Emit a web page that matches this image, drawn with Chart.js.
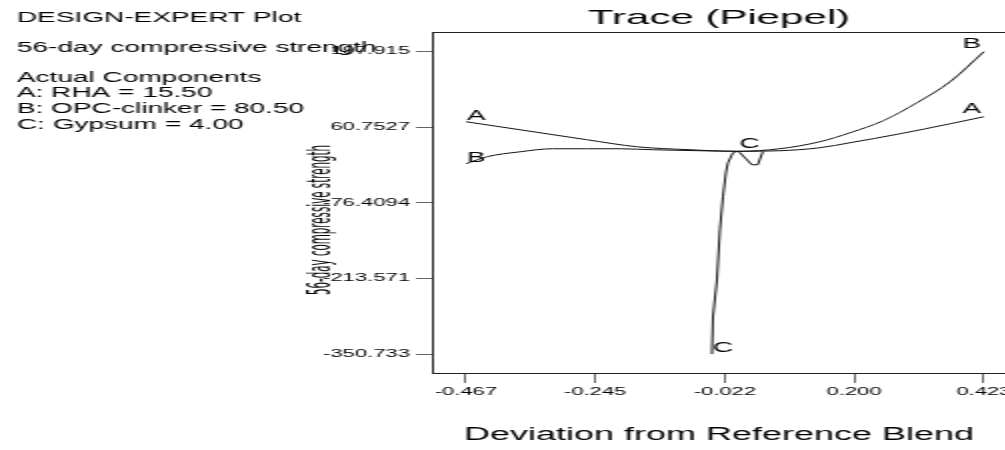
<!DOCTYPE html>
<html>
<head>
<meta charset="utf-8">
<script src="https://cdn.jsdelivr.net/npm/chart.js@4.4.0/dist/chart.umd.min.js"></script>
<style>
  html, body { margin: 0; padding: 0; background: #fff; }
  #wrap { width: 1005px; height: 450px; overflow: hidden; position: relative; }
  /* the original plot is a horizontally stretched export, so draw narrow and stretch x2 */
  #chart { display: block; transform: scaleX(2); transform-origin: 0 0; }
</style>
</head>
<body>
<div id="wrap"><canvas id="chart" width="520" height="450"></canvas></div>
<script>
// Trace (Piepel) curves
const curveNames = ['A', 'B', 'C'];

const devA = [-0.467, -0.374, -0.259, -0.173, -0.082, 0.000, 0.072, 0.141, 0.193, 0.279, 0.365, 0.423];
const strengthA = [70.4, 55.8, 37.7, 25.0, 19.6, 16.8, 17.8, 23.2, 32.3, 48.6, 66.7, 79.4];

const devB = [-0.467, -0.431, -0.374, -0.318, -0.259, -0.202, -0.146, -0.065, 0.000, 0.072, 0.141, 0.193, 0.250, 0.308, 0.365, 0.423];
const strengthB = [-5.8, 6.9, 15.9, 21.4, 21.4, 21.4, 19.6, 17.8, 16.8, 21.4, 34.1, 50.4, 72.2, 104.8, 142.9, 197.4];

const devC = [-0.0443, -0.0426, -0.0357, -0.0306, -0.0254, -0.0203, -0.0168, -0.0082, 0.000, 0.0038, 0.0141, 0.0241, 0.0344, 0.0430];
const strengthC = [-350.7, -283.4, -216.3, -125.6, -65.7, -22.2, -4.0, 14.1, 16.8, 14.1, 3.2, -7.6, -7.6, 16.0];

// axis ticks
const xTickValues = [-0.467, -0.245, -0.022, 0.200, 0.423];
const xTickLabels = ['-0.467', '-0.245', '-0.022', '0.200', '0.423'];
const yTickValues = [197.915, 60.7527, -76.4094, -213.571, -350.733];
const yTickLabels = ['197.915', '60.7527', '-76.4094', '-213.571', '-350.733'];

// side notes
const noteLines = [
    'DESIGN-EXPERT Plot',
    '56-day compressive strength',
    'Actual Components',
    'A: RHA = 15.50',
    'B: OPC-clinker = 80.50',
    'C: Gypsum = 4.00'
];
const yAxisTitle = '56-day compressive strength';

const FONT = "'Liberation Sans', Arial, sans-serif";
Chart.defaults.font.family = FONT;
Chart.defaults.color = '#000';

function toPoints(xs, ys) {
    return xs.map((x, i) => ({ x: x, y: ys[i] }));
}

// frame round the plot area (right edge falls outside the window)
const framePlugin = {
    id: 'frame',
    beforeDatasetsDraw(chart) {
        const { ctx, chartArea } = chart;
        ctx.save();
        ctx.strokeStyle = '#222';
        ctx.lineWidth = 1;
        ctx.strokeRect(Math.round(chartArea.left) + 0.5, Math.round(chartArea.top) + 0.5,
            chartArea.right - chartArea.left, Math.round(chartArea.bottom - chartArea.top));
        ctx.restore();
    }
};

// A / B / C letters at both ends of every trace
const endLabelPlugin = {
    id: 'endLabels',
    afterDatasetsDraw(chart) {
        const ctx = chart.ctx;
        ctx.save();
        ctx.font = '14px ' + FONT;
        ctx.fillStyle = '#000';
        ctx.textBaseline = 'alphabetic';
        chart.data.datasets.forEach((ds, i) => {
            const pts = chart.getDatasetMeta(i).data;
            const first = pts[0];
            const last = pts[pts.length - 1];
            ctx.textAlign = 'left';
            ctx.fillText(ds.label, first.x + 0.5, first.y - 2);
            ctx.textAlign = 'right';
            ctx.fillText(ds.label, last.x - 1.5, last.y - 4);
        });
        ctx.restore();
    }
};

// notes on the left and the rotated y title
const notesPlugin = {
    id: 'notes',
    afterDraw(chart) {
        const ctx = chart.ctx;
        const rows = [18, 48, 78, 93, 109, 125];
        ctx.save();
        ctx.fillStyle = '#000';
        ctx.font = '14px ' + FONT;
        ctx.textAlign = 'left';
        ctx.textBaseline = 'middle';
        noteLines.forEach((t, i) => ctx.fillText(t, 8.5, rows[i]));

        ctx.translate(161, 220);
        ctx.rotate(-Math.PI / 2);
        ctx.font = "15px 'Liberation Sans Narrow', 'DejaVu Sans Condensed', sans-serif";
        ctx.textAlign = 'center';
        ctx.fillText(yAxisTitle, 0, 0, 150);
        ctx.restore();
    }
};

const lineStyle = {
    borderColor: '#111',
    borderWidth: 1,
    pointRadius: 0,
    showLine: true,
    fill: false
};

new Chart(document.getElementById('chart'), {
    type: 'scatter',
    data: {
        datasets: [
            Object.assign({ label: curveNames[0], data: toPoints(devA, strengthA), cubicInterpolationMode: 'monotone' }, lineStyle),
            Object.assign({ label: curveNames[1], data: toPoints(devB, strengthB), cubicInterpolationMode: 'monotone' }, lineStyle),
            Object.assign({ label: curveNames[2], data: toPoints(devC, strengthC), tension: 0 }, lineStyle)
        ]
    },
    options: {
        responsive: false,
        animation: false,
        layout: { padding: { left: 0, right: 17, top: 0, bottom: 0 } },
        plugins: {
            legend: { display: false },
            tooltip: { enabled: false },
            title: {
                display: true,
                text: 'Trace (Piepel)',
                fullSize: false,
                color: '#000',
                font: { size: 21, weight: 'normal' },
                padding: { top: 5.5, bottom: 1.3 }
            }
        },
        scales: {
            x: {
                type: 'linear',
                min: -0.5254,
                max: 0.4609,
                afterBuildTicks: s => { s.ticks = xTickValues.map(v => ({ value: v })); },
                afterFit: s => { s.height = 77; s.paddingLeft = 0; s.paddingRight = 0; },
                ticks: {
                    autoSkip: false,
                    maxRotation: 0,
                    padding: 2,
                    font: { size: 11 },
                    callback: (v, i) => xTickLabels[i]
                },
                grid: { drawOnChartArea: false, tickLength: 10, color: '#666' },
                border: { display: false },
                title: {
                    display: true,
                    text: 'Deviation from Reference Blend',
                    font: { size: 18 },
                    padding: { top: 0, bottom: 4.2 }
                }
            },
            y: {
                type: 'linear',
                min: -385,
                max: 233,
                afterBuildTicks: s => { s.ticks = yTickValues.map(v => ({ value: v })); },
                afterFit: s => { s.width = 216; },
                ticks: {
                    autoSkip: false,
                    padding: 3,
                    font: { size: 11 },
                    callback: (v, i) => yTickLabels[i]
                },
                grid: { drawOnChartArea: false, tickLength: 8, color: '#666' },
                border: { display: false }
            }
        }
    },
    plugins: [framePlugin, endLabelPlugin, notesPlugin]
});
</script>
</body>
</html>
